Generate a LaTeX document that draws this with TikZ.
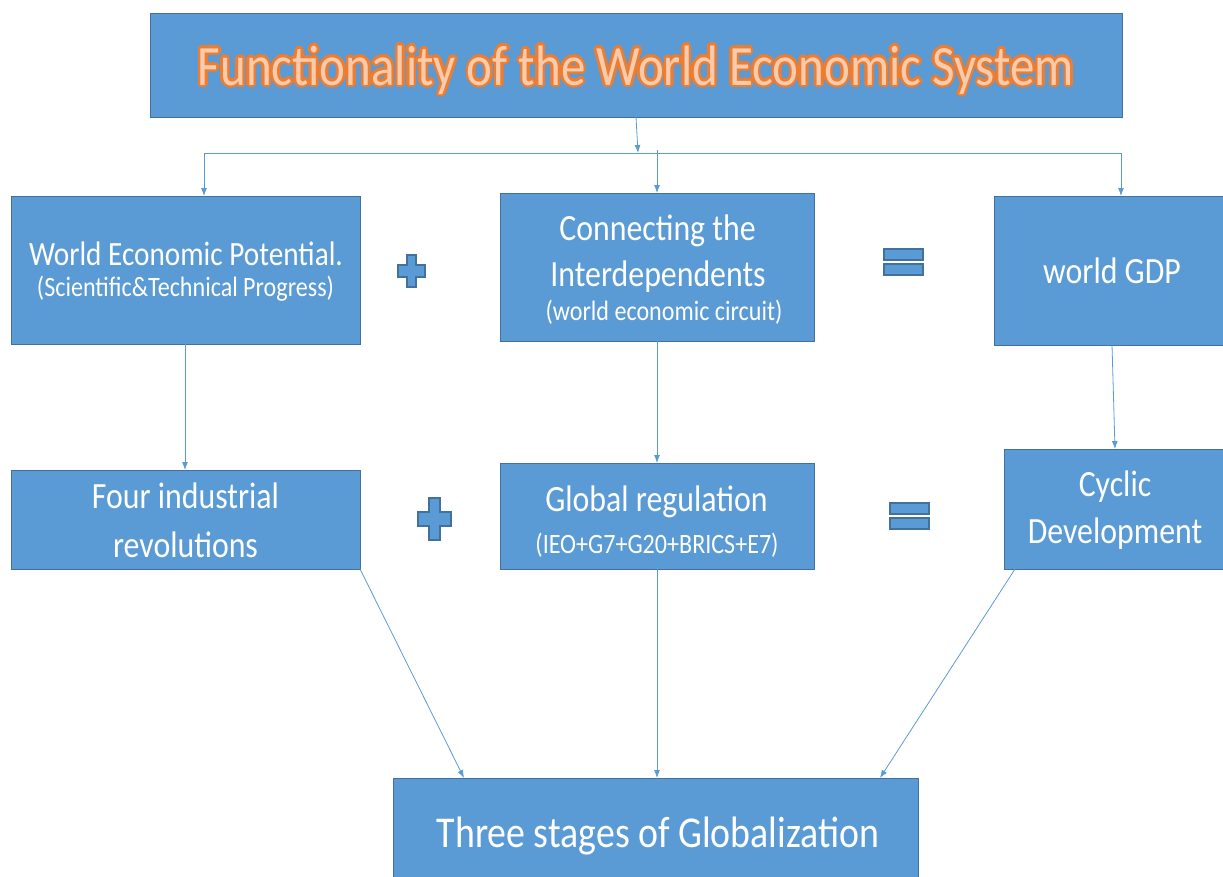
\documentclass[tikz,border=0pt]{standalone}
\usepackage{fontspec}
\setmainfont[FakeStretch=0.86]{Carlito}
\usetikzlibrary{arrows.meta,calc}
\definecolor{boxblue}{HTML}{5B9BD5}
\definecolor{boxedge}{HTML}{41719C}
\definecolor{titleor}{HTML}{ED7D31}
\definecolor{titlefill}{HTML}{F8CBAD}
\tikzset{
  box/.style={draw=boxedge, line width=0.8pt, fill=boxblue, anchor=north west, inner sep=0pt},
  conn/.style={draw=boxblue, line width=0.8pt, -{Latex[length=8pt,width=6pt]}},
  bar/.style={draw=boxedge, line width=1.2pt, fill=boxblue},
  lbl/.style={text=white, anchor=base, inner sep=0pt},
  fbig/.style={font=\fontsize{37}{40}\selectfont},
  fsmall/.style={font=\fontsize{28}{30}\selectfont},
  ftitle/.style={font=\fontsize{57}{60}\selectfont, anchor=base, inner sep=0pt}
}
\begin{document}
\begin{tikzpicture}[x=1pt,y=-1pt]
\useasboundingbox (0,0) rectangle (1223,876);
% boxes
\node[box, minimum width=972pt, minimum height=104pt] (title) at (150,13) {};
\node[box, minimum width=349pt, minimum height=148pt] (A) at (11,196) {};
\node[box, minimum width=314pt, minimum height=148pt] (B) at (500,193) {};
\node[box, minimum width=240pt, minimum height=149pt] (C) at (994,196) {};
\node[box, minimum width=349pt, minimum height=99pt] (D) at (11,470) {};
\node[box, minimum width=314pt, minimum height=106pt] (E) at (500,463) {};
\node[box, minimum width=230pt, minimum height=120pt] (F) at (1004,449) {};
\node[box, minimum width=525pt, minimum height=110pt] (G) at (393,778) {};
% title text with outline
\foreach \a in {0,22.5,...,359} {
  \node[ftitle, text=titleor] at ($(636,85)+(\a:2.6)$) {Functionality of the World Economic System};
}
\node[ftitle, text=titlefill] (ttext) at (636,85) {Functionality of the World Economic System};
% box texts
\node[lbl, font=\fontsize{34}{36}\selectfont] (A1) at (186,265) {World Economic Potential.};
\node[lbl, fsmall] (A2) at (185.5,296) {(Scientific\&Technical Progress)};
\node[lbl, fbig] (B1) at (657.5,240) {Connecting the};
\node[lbl, fbig] (B2) at (658,286) {Interdependents};
\node[lbl, fsmall] (B3) at (664,320) {(world economic circuit)};
\node[lbl, fbig] (C1) at (1112,283) {world GDP};
\node[lbl, fbig] (D1) at (185.5,508) {Four industrial};
\node[lbl, fbig] (D2) at (185.5,557) {revolutions};
\node[lbl, fbig] (E1) at (656.5,511) {Global regulation};
\node[lbl, fsmall] (E2) at (657,553) {(IEO+G7+G20+BRICS+E7)};
\node[lbl, fbig] (F1) at (1115,496) {Cyclic};
\node[lbl, fbig] (F2) at (1115,543) {Development};
\node[lbl, font=\fontsize{44}{46}\selectfont] (G1) at (658,847) {Three stages of Globalization};
% plus and equals
\draw[bar] (407,255) -- (416,255) -- (416,265) -- (425,265) -- (425,277) -- (416,277) -- (416,287) -- (407,287) -- (407,277) -- (398,277) -- (398,265) -- (407,265) -- cycle;
\draw[bar] (429,498) -- (440,498) -- (440,512) -- (451,512) -- (451,526) -- (440,526) -- (440,540) -- (429,540) -- (429,526) -- (418,526) -- (418,512) -- (429,512) -- cycle;
\draw[bar] (884,249) rectangle (923,260);
\draw[bar] (884,264) rectangle (923,275);
\draw[bar] (890,503) rectangle (929,514);
\draw[bar] (890,518) rectangle (929,529);
% connector points
\coordinate (t1) at (636,117);
\coordinate (j) at (638,153);
\coordinate (jl) at (204,153);
\coordinate (jr) at (1121,153);
\coordinate (jm) at (657,150);
\coordinate (a1) at (185,344);
\coordinate (d1) at (185,470);
\coordinate (b1) at (657,341);
\coordinate (e1) at (657,463);
\coordinate (c1) at (1112,345);
\coordinate (f1) at (1115,449);
\coordinate (d2) at (360,569);
\coordinate (g1) at (464,778);
\coordinate (e2) at (657,569);
\coordinate (g2) at (657,778);
\coordinate (f2) at (1015,569);
\coordinate (g3) at (880,778);
\draw[conn] (t1) -- (j);
\draw[draw=boxblue, line width=0.8pt] (jl) -- (jr);
\draw[conn] (jl) -- (jl |- A.north);
\draw[conn] (jr) -- (jr |- C.north);
\draw[conn] (jm) -- (jm |- B.north);
\draw[conn] (a1) -- (d1);
\draw[conn] (b1) -- (e1);
\draw[conn] (c1) -- (f1);
\draw[conn] (d2) -- (g1);
\draw[conn] (e2) -- (g2);
\draw[conn] (f2) -- (g3);
\end{tikzpicture}
\end{document}
